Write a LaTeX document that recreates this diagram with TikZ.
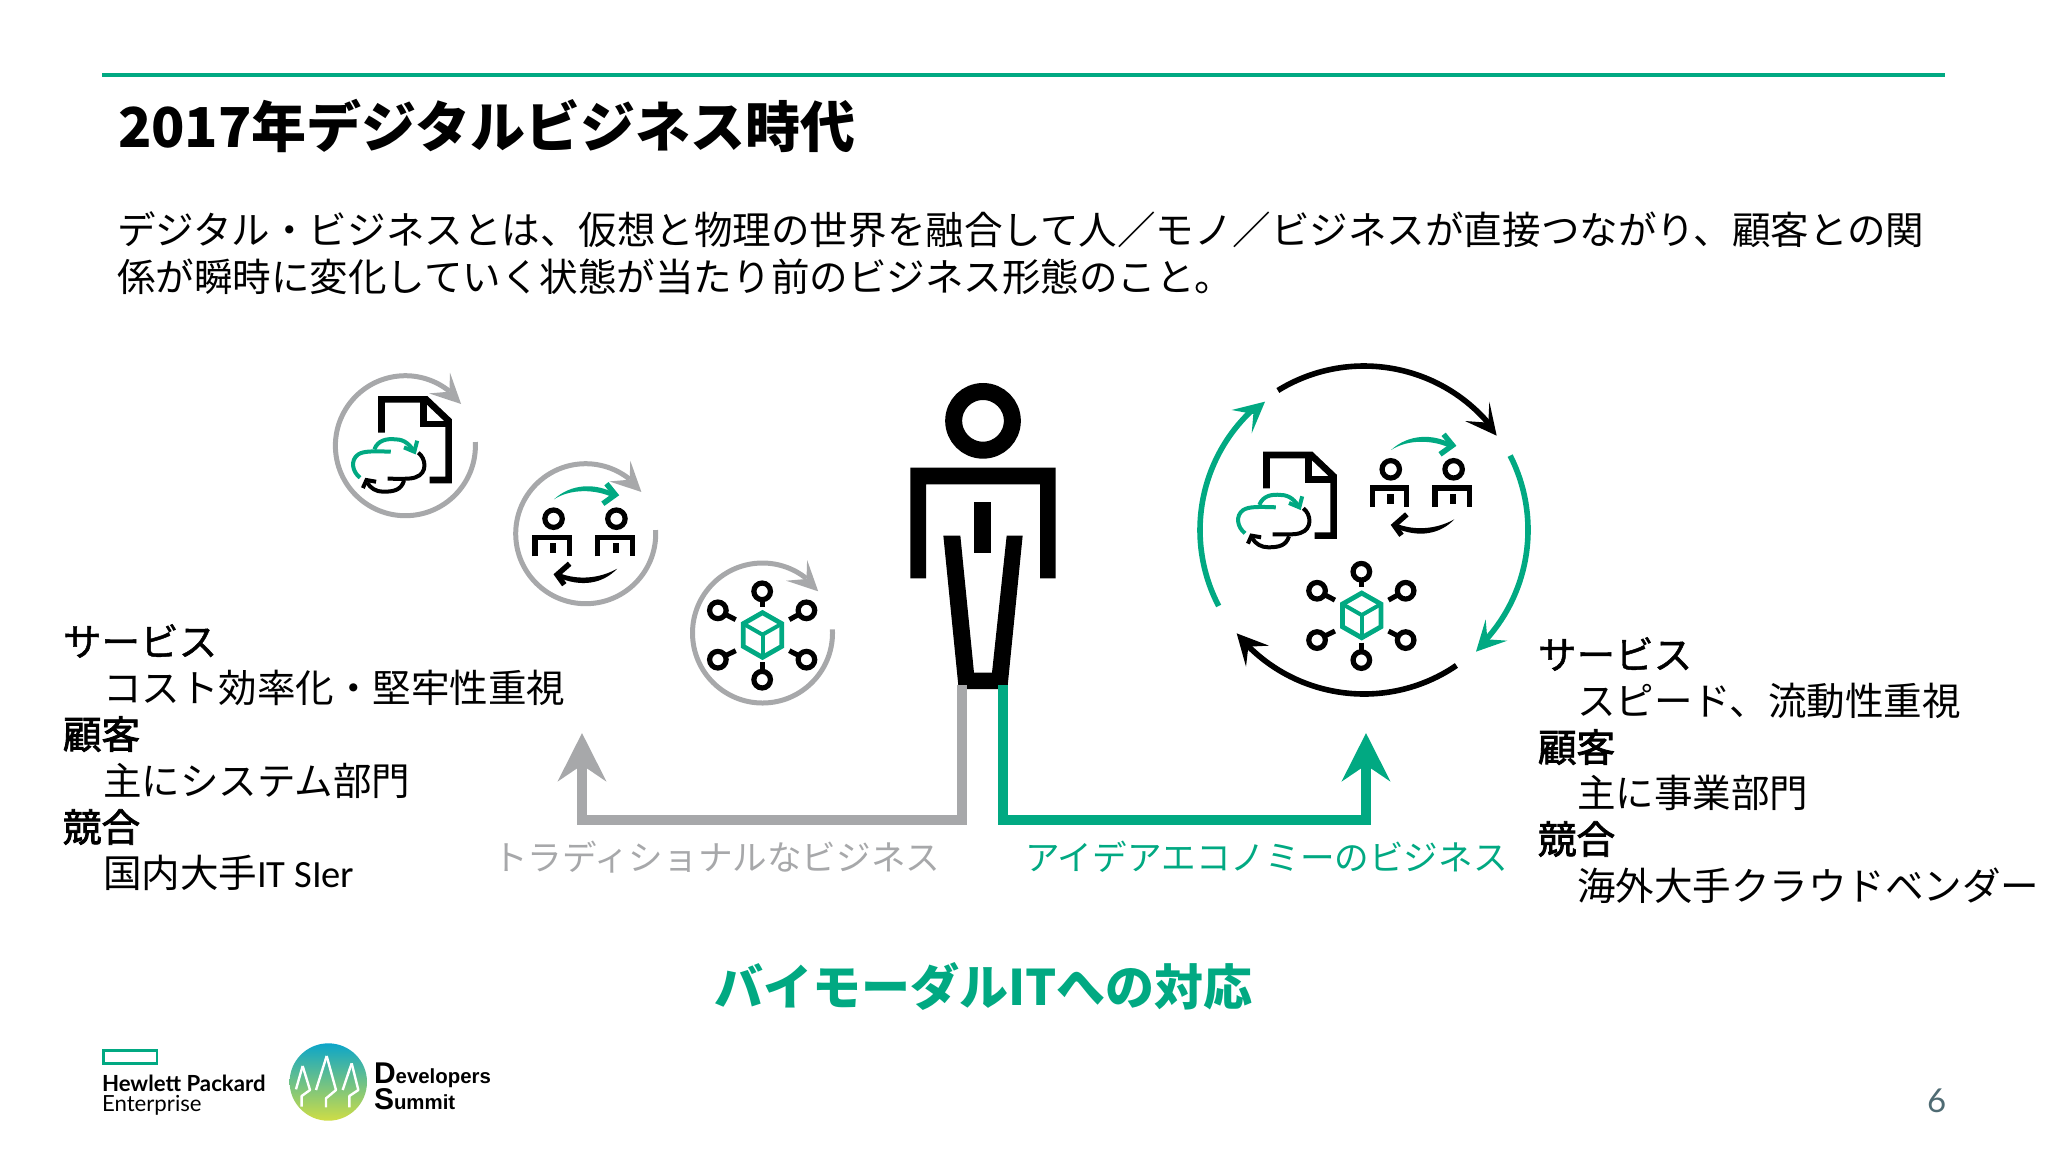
\documentclass[tikz,border=0pt]{standalone}
\usepackage{fontspec}
\setmainfont{Noto Sans CJK JP}
\newfontfamily\medfont[FakeBold=1.2]{Noto Sans CJK JP}
\newfontfamily\semifont[FakeBold=2.2]{Noto Sans CJK JP}
\newfontfamily\logofont{Lato}
\newfontfamily\dsfont{Liberation Sans}
\newfontfamily\latnarrow{Carlito}
\usetikzlibrary{arrows.meta}
\definecolor{hpegreen}{HTML}{01A982}
\definecolor{hpegray}{HTML}{A7A8AA}
\definecolor{pagenum}{HTML}{4F6B73}
\definecolor{dstop}{HTML}{0CA5C9}
\definecolor{dsmid}{HTML}{4DB6A2}
\definecolor{dsbot}{HTML}{CFDD45}
\newcommand{\fsz}[1]{\fontsize{#1}{#1}\selectfont}
\tikzset{
  txt/.style={anchor=west,inner sep=0pt,outer sep=0pt},
  ringline/.style={draw=hpegray,line width=2.5pt},
  bigblack/.style={draw=black,line width=2.8pt},
  biggreen/.style={draw=hpegreen,line width=2.8pt},
  linkgray/.style={draw=hpegray,line width=4.8pt,miter limit=10,-{Stealth[length=24pt,width=24pt,inset=8pt]}},
  linkgreen/.style={draw=hpegreen,line width=4.8pt,miter limit=10,-{Stealth[length=24pt,width=24pt,inset=8pt]}},
  iconring/.style={line width=2.6pt}
}
% doc + cloud icon
\newcommand{\docicon}[2]{%
\begin{scope}[shift={(#1,#2)},xscale=1/2.8,yscale=1/3,shift={(-267,-287)}]
  \draw[line width=3.3pt] (200,248) -- (200,148) -- (325,148) -- (388,212) -- (388,390) -- (335,390);
  \draw[line width=3.3pt] (317,148) -- (317,222) -- (388,222);
  \draw[hpegreen,line width=2pt] (140,383) .. controls (118,365) and (112,330) .. (135,313) .. controls (150,303) and (175,303) .. (226,305);
  \draw[hpegreen,line width=2pt] (180,298) .. controls (190,270) and (215,265) .. (240,268) .. controls (265,268) and (280,285) .. (292,305);
  \draw[hpegreen,line width=2pt] (263,292) -- (292,305) -- (300,272);
  \draw[line width=2pt] (303,308) .. controls (325,325) and (330,370) .. (295,382) .. controls (280,388) and (250,386) .. (217,386);
  \draw[line width=2pt] (263,392) .. controls (255,420) and (235,425) .. (205,425) .. controls (185,425) and (170,415) .. (160,398);
  \draw[line width=2pt] (148,414) -- (158,390) -- (185,395);
\end{scope}}
% two people icon
\newcommand{\onebody}[1]{%
  \draw[iconring,shift={(#1,0)}] (682,505) circle[x radius=24.4,y radius=26.1];
  \draw[line width=2.6pt,shift={(#1,0)}] (630,618) -- (630,561) -- (727,561) -- (727,618);
  \fill[shift={(#1,0)}] (672,578) rectangle (690,608);}
\newcommand{\peopleicon}[2]{%
\begin{scope}[shift={(#1,#2)},xscale=1/2.8,yscale=1/3,shift={(-772,-550)}]
  \onebody{0}\onebody{176}
  \fill[hpegreen] (683,447) .. controls (730,400) and (800,396) .. (855,430) -- (850,442) .. controls (800,416) and (730,414) .. cycle;
  \draw[hpegreen,line width=2.7pt] (830,400) -- (855,433) -- (820,460);
  \fill (860,655) .. controls (810,685) and (750,690) .. (697,668) -- (692,680) .. controls (760,712) and (820,700) .. cycle;
  \draw[line width=2.7pt] (727,640) -- (692,673) -- (712,703);
\end{scope}}
% network icon
\newcommand{\netring}[2]{\draw[iconring] (#1,#2) circle[x radius=23.2,y radius=24.9];}
\newcommand{\neticon}[2]{%
\begin{scope}[shift={(#1,#2)},xscale=1/2.8,yscale=1/3,shift={(-1267,-850)}]
  \netring{1266}{725}\netring{1266}{990}\netring{1142}{782}\netring{1390}{782}\netring{1142}{930}\netring{1390}{930}
  \draw[line width=2.5pt] (1266,750) -- (1266,772);
  \draw[line width=2.5pt] (1266,938) -- (1266,965);
  \draw[line width=2.5pt] (1163,794) -- (1192,810);
  \draw[line width=2.5pt] (1369,794) -- (1342,810);
  \draw[line width=2.5pt] (1163,918) -- (1192,903);
  \draw[line width=2.5pt] (1369,918) -- (1342,903);
  \draw[hpegreen,line width=2.4pt,line join=miter] (1267,789) -- (1321,822) -- (1321,890) -- (1267,923) -- (1213,890) -- (1213,822) -- cycle;
  \draw[hpegreen,line width=2pt] (1213,822) -- (1267,855) -- (1321,822);
  \draw[hpegreen,line width=2pt] (1267,855) -- (1267,923);
\end{scope}}
% grey ring with arrow
\newcommand{\grayring}[2]{%
\begin{scope}[shift={(#1,#2)}]
  \draw[ringline] (-3:70) arc[start angle=-3,end angle=309,radius=70];
  \fill[hpegray] (55.7,-41.7) -- (44.6,-73) -- (44,-54) -- (23.6,-52.3) -- cycle;
\end{scope}}
\begin{document}
\begin{tikzpicture}[x=.5pt,y=-.5pt]
\useasboundingbox (0,0) rectangle (2048,1152);
\coordinate (ruleL) at (102,75);
\coordinate (ruleR) at (1945,75);
\draw[hpegreen,line width=1.6pt] (ruleL) -- (ruleR);
\node[txt,font=\fsz{27.5}\bfseries] (title) at (118,126) {2017年デジタルビジネス時代};
\node[txt,font=\fsz{19.27}] (body1) at (117,230) {デジタル・ビジネスとは、仮想と物理の世界を融合して人／モノ／ビジネスが直接つながり、顧客との関};
\node[txt,font=\fsz{19.27}] (body2) at (117,277) {係が瞬時に変化していく状態が当たり前のビジネス形態のこと。};

% left icons
\grayring{405.4}{445.7}
\docicon{405.4}{445.7}
\grayring{585.7}{533.7}
\peopleicon{585.7}{533.7}
\grayring{762.5}{633}
\neticon{762.5}{633}

% person
\begin{scope}[shift={(880,370)},scale=1/3]
  \draw[line width=8.5pt] (309,152.5) circle[radius=88];
  \fill (91,293) -- (527,293) -- (527,625) -- (480,625) -- (480,343) -- (138,343) -- (138,625) -- (91,625) -- cycle;
  \fill (283,395) rectangle (334,549);
  \fill (190,497) -- (241,497) -- (282,908) -- (336,908) -- (380,497) -- (428,497) -- (382,957) -- (236,957) -- cycle;
\end{scope}

% connectors
\coordinate (gstart) at (962,685);
\coordinate (gcorner1) at (962,820);
\coordinate (gcorner2) at (582,820);
\coordinate (gtip) at (582,733);
\draw[linkgray] (gstart) -- (gcorner1) -- (gcorner2) -- (gtip);
\coordinate (tstart) at (1003,685);
\coordinate (tcorner1) at (1003,820);
\coordinate (tcorner2) at (1366,820);
\coordinate (ttip) at (1366,733);
\draw[linkgreen] (tstart) -- (tcorner1) -- (tcorner2) -- (ttip);
\node[txt,font=\fsz{17.3},text=hpegray] (ltrad) at (493,857) {トラディショナルなビジネス};
\node[txt,font=\fsz{17.3},text=hpegreen] (lidea) at (1025,857) {アイデアエコノミーのビジネス};

% big cycle
\begin{scope}[shift={(1364,530)}]
  \draw[bigblack] (-121.7:164) arc[start angle=-121.7,end angle=-40,radius=164];
  \draw[biggreen] (-27:164) arc[start angle=-27,end angle=42,radius=164];
  \draw[bigblack] (55.7:164) arc[start angle=55.7,end angle=136,radius=164];
  \draw[biggreen] (152.4:164) arc[start angle=152.4,end angle=227,radius=164];
\end{scope}
\begin{scope}[shift={(1180,350)},scale=1/3]
  \fill (950,257) -- (928,155) -- (925,218) -- (855,213) -- cycle;
  \fill[hpegreen] (888,905) -- (982,872) -- (922,868) -- (917,808) -- cycle;
  \fill (170,850) -- (267,887) -- (205,890) -- (198,950) -- cycle;
  \fill[hpegreen] (255,155) -- (155,180) -- (220,192) -- (215,250) -- cycle;
\end{scope}
\docicon{1290.4}{501.3}
\peopleicon{1422.9}{484.3}
\neticon{1361.7}{613.4}

% left text
\node[txt,font=\fsz{19.27}\medfont] (ls) at (63,641) {サービス};
\node[txt,font=\fsz{19.27}] (ls2) at (103,688) {コスト効率化・堅牢性重視};
\node[txt,font=\fsz{19.27}\semifont] (lc) at (63,734) {顧客};
\node[txt,font=\fsz{19.27}] (lc2) at (103,781) {主にシステム部門};
\node[txt,font=\fsz{19.27}\semifont] (lk) at (63,827) {競合};
\node[txt,font=\fsz{19.27}] (lk2) at (103,873) {国内大手{\latnarrow IT SIer}};
% right text
\node[txt,font=\fsz{19.27}\medfont] (rs) at (1538,654) {サービス};
\node[txt,font=\fsz{19.27}] (rs2) at (1577,701) {スピード、流動性重視};
\node[txt,font=\fsz{19.27}\semifont] (rc) at (1538,747) {顧客};
\node[txt,font=\fsz{19.27}] (rc2) at (1577,793) {主に事業部門};
\node[txt,font=\fsz{19.27}\semifont] (rk) at (1538,839) {競合};
\node[txt,font=\fsz{19.27}] (rk2) at (1577,886) {海外大手クラウドベンダー};

\node[txt,font=\fsz{24.5}\bfseries,text=hpegreen] (bim) at (714,986) {バイモーダルITへの対応};

% logos
\draw[hpegreen,line width=1.35pt] (103.7,1050.7) rectangle (157,1063.3);
\node[txt,font=\logofont\fsz{11.1}\bfseries] (hp) at (102,1083) {Hewlett Packard};
\node[txt,font=\logofont\fsz{11.1}] (ent) at (102,1105) {Enterprise};
\shade[top color=dstop,middle color=dsmid,bottom color=dsbot] (328.3,1082) circle[radius=38.7];
\begin{scope}[shift={(80,1030)},scale=1/3,white,line width=1.2pt,line join=round]
  \draw (668,108) -- (648,178);
  \draw (668,108) -- (690,180) -- (665,198) -- (665,230);
  \draw (740,78) -- (708,180);
  \draw (740,78) -- (768,180) -- (738,205) -- (738,232);
  \draw (815,100) -- (788,180);
  \draw (815,100) -- (835,180) -- (808,198) -- (808,232);
\end{scope}
\node[txt,font=\dsfont\bfseries] (ds1) at (374,1075) {{\fsz{15}D}{\fsz{10.2}evelopers}};
\node[txt,font=\dsfont\bfseries] (ds2) at (374,1099) {{\fsz{15}S}{\fsz{10.2}ummit}};
\node[txt,font=\logofont\fsz{16.5},text=pagenum] (pg) at (1927,1101) {6};
\end{tikzpicture}
\end{document}
